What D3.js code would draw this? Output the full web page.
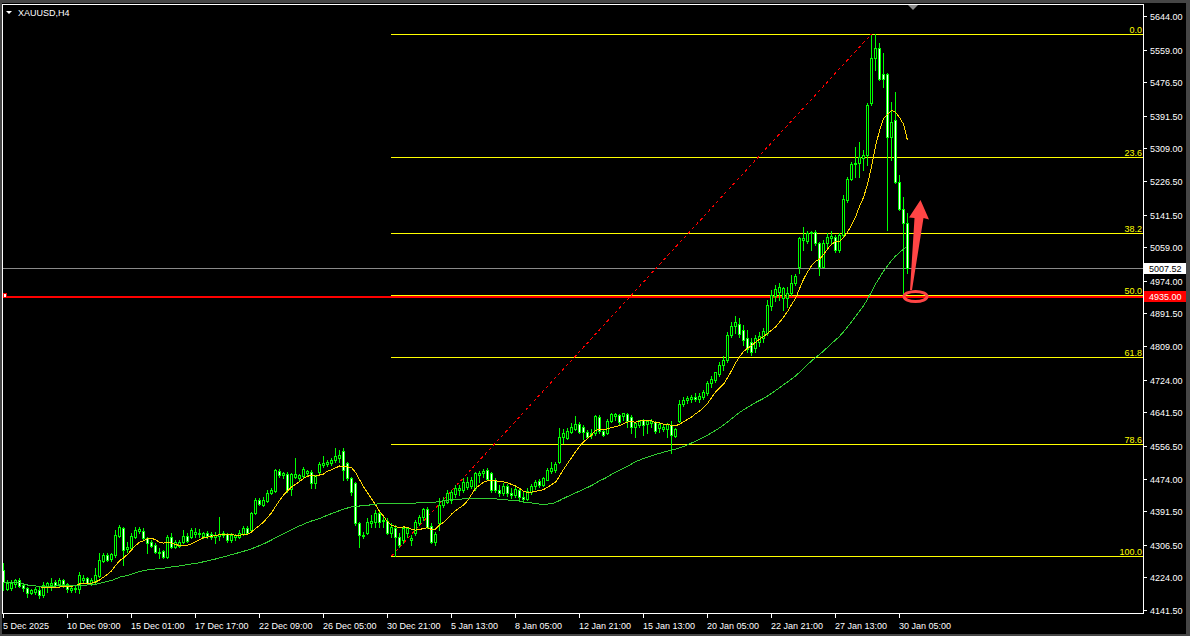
<!DOCTYPE html>
<html><head><meta charset="utf-8">
<script src="https://cdn.jsdelivr.net/npm/d3@7"></script>
<style>html,body{margin:0;padding:0;background:#464646;overflow:hidden}svg{display:block}</style>
</head><body><svg id="c" width="1190" height="636"></svg>
<script>
const symbolTitle = "XAUUSD,H4";
// [open, high, low, close] per H4 bar
const ohlc = [
[4243,4260,4192,4212],[4195,4217,4192,4210],[4197,4217,4192,4210],[4207,4220,4200,4217],[4217,4222,4200,4202],
[4205,4210,4190,4197],[4197,4200,4175,4185],[4185,4195,4182,4192],[4187,4200,4182,4195],[4192,4200,4172,4180],
[4180,4212,4175,4205],[4200,4212,4187,4210],[4205,4222,4192,4210],[4212,4217,4200,4205],[4207,4222,4200,4217],
[4217,4220,4200,4207],[4207,4210,4187,4195],[4192,4202,4187,4197],[4195,4205,4187,4197],[4195,4237,4185,4230],
[4217,4230,4210,4222],[4222,4225,4207,4210],[4210,4222,4205,4217],[4212,4248,4210,4230],[4227,4286,4225,4268],
[4265,4286,4263,4280],[4280,4286,4265,4268],[4270,4286,4265,4283],[4280,4344,4275,4331],[4329,4356,4326,4351],
[4349,4351,4255,4293],[4296,4313,4288,4301],[4298,4336,4293,4329],[4326,4351,4324,4344],[4341,4351,4336,4346],
[4341,4349,4318,4324],[4324,4326,4286,4311],[4313,4318,4301,4303],[4306,4311,4286,4288],[4286,4298,4273,4288],
[4290,4293,4273,4275],[4275,4331,4273,4326],[4326,4336,4298,4301],[4301,4318,4298,4313],[4303,4318,4301,4313],
[4313,4344,4311,4329],[4329,4336,4313,4316],[4326,4349,4324,4344],[4334,4349,4326,4339],[4334,4346,4326,4336],
[4329,4339,4324,4336],[4336,4341,4324,4329],[4334,4339,4321,4326],[4326,4339,4311,4331],[4329,4377,4318,4334],
[4331,4341,4326,4336],[4334,4336,4313,4318],[4318,4336,4313,4331],[4326,4334,4318,4331],[4326,4344,4324,4336],
[4334,4354,4331,4349],[4349,4354,4336,4336],[4344,4389,4341,4387],[4387,4425,4384,4420],[4420,4425,4407,4410],
[4407,4427,4404,4420],[4417,4445,4415,4437],[4437,4450,4435,4445],[4442,4498,4440,4495],[4493,4498,4478,4483],
[4483,4490,4475,4488],[4485,4490,4440,4445],[4447,4488,4432,4485],[4478,4526,4475,4485],[4475,4485,4470,4483],
[4480,4503,4475,4498],[4488,4495,4480,4493],[4490,4495,4450,4462],[4462,4483,4450,4480],[4490,4516,4483,4511],
[4508,4531,4503,4513],[4511,4521,4506,4516],[4513,4526,4508,4521],[4521,4551,4516,4531],[4526,4546,4516,4533],
[4543,4551,4470,4495],[4513,4516,4470,4475],[4475,4478,4432,4440],[4462,4465,4356,4361],[4361,4364,4301,4331],
[4331,4339,4324,4329],[4336,4374,4334,4364],[4361,4382,4351,4366],[4364,4394,4351,4387],[4387,4394,4351,4364],
[4366,4382,4351,4369],[4366,4374,4334,4336],[4336,4361,4326,4351],[4349,4356,4278,4326],[4326,4336,4301,4306],
[4318,4351,4311,4349],[4336,4351,4326,4349],[4318,4331,4306,4323],[4336,4369,4331,4364],[4361,4382,4356,4377],
[4377,4399,4369,4397],[4397,4402,4349,4351],[4354,4361,4311,4313],[4313,4339,4306,4333],[4361,4425,4344,4407],
[4407,4427,4402,4420],[4415,4445,4412,4437],[4420,4445,4412,4440],[4435,4457,4427,4450],[4445,4457,4432,4450],
[4445,4475,4440,4465],[4452,4478,4447,4465],[4455,4478,4450,4470],[4450,4490,4445,4488],[4483,4493,4465,4488],
[4488,4498,4478,4493],[4495,4500,4470,4473],[4488,4490,4440,4445],[4470,4475,4440,4445],[4445,4457,4430,4437],
[4437,4462,4432,4455],[4455,4460,4430,4437],[4437,4450,4425,4432],[4432,4455,4427,4447],[4445,4450,4420,4427],
[4427,4440,4415,4422],[4422,4450,4420,4442],[4440,4460,4435,4455],[4455,4470,4447,4465],[4467,4473,4452,4457],
[4457,4478,4455,4475],[4470,4500,4470,4495],[4493,4516,4488,4500],[4495,4516,4490,4511],[4516,4602,4513,4579],
[4579,4599,4564,4589],[4576,4602,4574,4594],[4591,4614,4589,4604],[4599,4632,4597,4612],[4612,4617,4589,4592],
[4604,4609,4574,4592],[4592,4597,4576,4579],[4584,4599,4576,4589],[4589,4634,4584,4632],[4630,4634,4589,4594],
[4594,4599,4581,4584],[4589,4624,4587,4619],[4619,4640,4617,4637],[4632,4640,4622,4637],[4634,4637,4609,4617],
[4632,4640,4622,4640],[4637,4640,4604,4619],[4630,4634,4589,4604],[4604,4617,4579,4614],[4609,4622,4604,4622],
[4622,4624,4584,4609],[4612,4622,4589,4619],[4614,4624,4604,4619],[4617,4619,4589,4594],[4602,4614,4592,4612],
[4599,4609,4594,4604],[4599,4614,4579,4612],[4609,4619,4538,4584],[4581,4602,4579,4599],[4619,4672,4617,4662],
[4662,4680,4657,4672],[4672,4682,4665,4677],[4675,4685,4667,4680],[4680,4690,4670,4675],[4675,4690,4667,4682],
[4680,4698,4675,4693],[4690,4721,4685,4716],[4716,4733,4705,4726],[4723,4743,4718,4743],[4738,4769,4733,4761],
[4761,4784,4748,4774],[4774,4845,4769,4837],[4837,4870,4832,4860],[4860,4885,4842,4870],[4865,4880,4832,4839],
[4850,4862,4812,4824],[4829,4850,4794,4801],[4819,4829,4786,4794],[4804,4837,4794,4829],[4819,4844,4809,4834],
[4829,4855,4819,4847],[4842,4925,4837,4913],[4910,4951,4900,4938],[4936,4963,4923,4953],[4946,4968,4925,4958],
[4931,4958,4900,4956],[4931,4958,4908,4943],[4943,4989,4938,4968],[4968,4991,4963,4986],[5009,5085,4994,5082],
[5077,5110,5052,5082],[5075,5100,5070,5095],[5095,5100,5052,5097],[5097,5102,5065,5070],[5070,5072,4989,5009],
[5009,5077,5009,5070],[5070,5095,5060,5085],[5082,5100,5070,5087],[5085,5090,5047,5052],[5052,5095,5047,5090],
[5090,5191,5085,5181],[5178,5237,5173,5232],[5232,5275,5229,5270],[5270,5313,5237,5272],[5272,5325,5237,5287],
[5285,5305,5254,5292],[5292,5424,5267,5419],[5424,5596,5419,5538],[5538,5598,5507,5563],[5563,5576,5482,5485],
[5497,5550,5464,5485],[5497,5500,5103,5338],[5338,5427,5280,5376],[5381,5452,5222,5224],[5224,5242,5153,5156],
[5156,5186,4943,5120],[5120,5146,4994,5007.52]
];
const yTickLabels = ["5644.00","5559.00","5476.50","5391.50","5309.00","5226.50","5141.50","5059.00","4974.00","4891.50","4809.00","4724.00","4641.50","4556.50","4474.00","4391.50","4306.50","4224.00","4141.50"];
const xTickLabels = ["5 Dec 2025","10 Dec 09:00","15 Dec 01:00","17 Dec 17:00","22 Dec 09:00","26 Dec 05:00","30 Dec 21:00","5 Jan 13:00","8 Jan 05:00","12 Jan 21:00","15 Jan 13:00","20 Jan 05:00","22 Jan 21:00","27 Jan 13:00","30 Jan 05:00"];
const xTickBars = [0,16,32,48,64,80,96,112,128,144,160,176,192,208,224];
const fibLevels = [0,23.6,38.2,50,61.8,78.6,100];
const fibLabels = ["0.0","23.6","38.2","50.0","61.8","78.6","100.0"];
const fibAnchorPrices = [4278, 5598.5];
const fibAnchorBars = [97, 217];
const maPeriods = [10, 50];
const bidPrice = 5007.52;
const hLinePrice = 4935.00;
const hLineLabel = "4935.00";
const bidLabel = "5007.52";

const svg = d3.select("#c");
const L = 3, R = 1143, T = 5, B = 613;
const x = d3.scaleLinear().domain([0, 1]).range([3.5, 7.5]);
const y = d3.scaleLinear().domain([4141.5, 5644]).range([610, 16]);
const py = v => Math.round(y(v));
const FONT = "'Liberation Sans', Arial, sans-serif";

svg.append("rect").attr("width",1190).attr("height",636).attr("fill","#464646");
svg.append("rect").attr("x",2).attr("y",3).attr("width",1184).attr("height",631).attr("fill","#000");

svg.append("defs").append("clipPath").attr("id","clip")
  .append("rect").attr("x",L).attr("y",T).attr("width",R-L).attr("height",B-T);
const plot = svg.append("g").attr("clip-path","url(#clip)");

// Fibonacci
const [fLow, fHigh] = fibAnchorPrices;
const fibPrice = l => fHigh - (fHigh - fLow) * l / 100;
const fx0 = Math.floor(x(fibAnchorBars[0]));
fibLevels.forEach(l => {
  const yy = py(fibPrice(l)) + 0.5;
  plot.append("line").attr("x1",fx0).attr("x2",R).attr("y1",yy).attr("y2",yy)
    .attr("stroke","#ffff00").attr("stroke-width",1).attr("shape-rendering","crispEdges");
});
// bid line
{
  const yy = py(bidPrice) + 0.5;
  plot.append("line").attr("x1",L).attr("x2",R).attr("y1",yy).attr("y2",yy)
    .attr("stroke","#8a8a8a").attr("shape-rendering","crispEdges");
}
// red horizontal line
{
  const yy = py(hLinePrice) + 1;
  plot.append("line").attr("x1",L).attr("x2",R).attr("y1",yy).attr("y2",yy)
    .attr("stroke","#ff0000").attr("stroke-width",2).attr("shape-rendering","crispEdges");
}
// dashed trend line of fib
plot.append("line")
  .attr("x1", x(fibAnchorBars[0])).attr("y1", y(fLow))
  .attr("x2", x(fibAnchorBars[1])).attr("y2", y(fHigh))
  .attr("stroke","#ff0000").attr("stroke-width",1).attr("stroke-dasharray","3,3")
  .attr("shape-rendering","crispEdges");

// candles
const cg = plot.append("g").attr("shape-rendering","crispEdges");
ohlc.forEach((d, i) => {
  const [o, h, l, c] = d;
  const cx = Math.floor(x(i)) + 0.5;
  cg.append("line").attr("x1",cx).attr("x2",cx).attr("y1",py(h)).attr("y2",py(l)+1)
    .attr("stroke","#00ff00");
  const top = py(Math.max(o, c)), bot = py(Math.min(o, c));
  if (bot - top < 1) {
    cg.append("line").attr("x1",cx-1.5).attr("x2",cx+1.5).attr("y1",top+0.5).attr("y2",top+0.5).attr("stroke","#00ff00");
  } else {
    cg.append("rect").attr("x",cx-1).attr("y",top+0.5).attr("width",2).attr("height",bot-top)
      .attr("fill", c >= o ? "#000" : "#fff").attr("stroke","#00ff00");
  }
});

// moving averages
const closes = ohlc.map(d => d[3]);
function sma(p) { return closes.map((c, i) => d3.mean(closes.slice(Math.max(0, i - p + 1), i + 1))); }
const maColors = ["#ffd700", "#32cd32"];
maPeriods.forEach((p, k) => {
  plot.append("path").datum(sma(p))
    .attr("d", d3.line().x((d, i) => x(i)).y(d => y(d)))
    .attr("fill","none").attr("stroke",maColors[k]).attr("stroke-width",1)
    .attr("shape-rendering","crispEdges");
});

// fib labels
fibLevels.forEach((l, k) => {
  svg.append("text").attr("x",1142).attr("y",py(fibPrice(l)) - 1.5)
    .attr("text-anchor","end").attr("fill","#ffff00")
    .attr("font-family",FONT).attr("font-size","9px").text(fibLabels[k]);
});

// frame
svg.append("rect").attr("x",2.5).attr("y",4.5).attr("width",1141).attr("height",609)
  .attr("fill","none").attr("stroke","#fff").attr("shape-rendering","crispEdges");

// y axis
yTickLabels.forEach(t => {
  const yy = py(+t) + 0.5;
  svg.append("line").attr("x1",1143).attr("x2",1147).attr("y1",yy).attr("y2",yy)
    .attr("stroke","#fff").attr("shape-rendering","crispEdges");
  svg.append("text").attr("x",1150).attr("y",yy + 3.5).attr("fill","#fff")
    .attr("font-family",FONT).attr("font-size","9px").text(t);
});
// x axis
xTickBars.forEach((b, k) => {
  const xx = Math.floor(x(b)) + 0.5;
  svg.append("line").attr("x1",xx).attr("x2",xx).attr("y1",613).attr("y2",618)
    .attr("stroke","#fff").attr("shape-rendering","crispEdges");
  svg.append("text").attr("x",xx - 0.5).attr("y",629).attr("fill","#fff")
    .attr("font-family",FONT).attr("font-size","9px").text(xTickLabels[k]);
});

// price labels
{
  const yy = py(bidPrice);
  svg.append("rect").attr("x",1144).attr("y",yy-5).attr("width",42).attr("height",11).attr("fill","#fff");
  svg.append("text").attr("x",1149).attr("y",yy+4).attr("fill","#000")
    .attr("font-family",FONT).attr("font-size","9px").text(bidLabel);
}
{
  const yy = py(hLinePrice);
  svg.append("rect").attr("x",1144).attr("y",yy-5).attr("width",42).attr("height",11).attr("fill","#ff0000");
  svg.append("text").attr("x",1149).attr("y",yy+4).attr("fill","#fff")
    .attr("font-family",FONT).attr("font-size","9px").text(hLineLabel);
  svg.append("rect").attr("x",3.5).attr("y",yy-2.5).attr("width",3).attr("height",4)
    .attr("fill","#fff").attr("stroke","#ff0000").attr("shape-rendering","crispEdges");
}

// title
svg.append("path").attr("d","M6,11 L12,11 L9,14 Z").attr("fill","#fff");
svg.append("text").attr("x",18).attr("y",16).attr("fill","#fff")
  .attr("font-family",FONT).attr("font-size","9px").text(symbolTitle);
// shift marker
svg.append("path").attr("d","M908,5 L918,5 L913,10 Z").attr("fill","#8c8c8c");

// annotation arrow and ellipse
svg.append("polygon")
  .attr("points","910,290 912,290 923.5,218 929,219.5 920.5,200 909,217.5 914.5,218")
  .attr("fill","#ff4545");
svg.append("ellipse").attr("cx",915.5).attr("cy",296.5).attr("rx",11.5).attr("ry",5)
  .attr("fill","none").attr("stroke","#ff4545").attr("stroke-width",3);
</script></body></html>
